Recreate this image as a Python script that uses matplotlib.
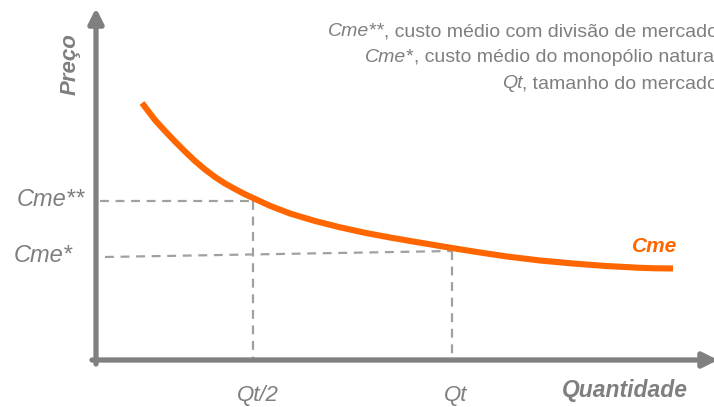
import matplotlib
matplotlib.use("Agg")
import matplotlib.pyplot as plt

# curve (Cme), in pixel-like units (x right, y down)
cme_x = [142, 155, 165, 175, 185, 195, 205, 215, 225, 235, 244, 253, 270, 290,
         315, 340, 365, 390, 415, 440, 452, 480, 507, 540, 573, 606, 640, 656, 673]
cme_y = [103, 120, 131, 141.5, 151.5, 161, 169.5, 177, 183.5, 189, 193.8, 198,
         205.8, 213.5, 221, 227.3, 232.8, 237.5, 241.8, 246, 248, 252.5, 256.5,
         260.5, 263.5, 266, 267.8, 268.3, 268.5]

q_half, q_t = 253, 452
cme2, cme1 = 201, 251
origin_x, origin_y = 96, 360

legend_lines = [
    ("Cme**", ", custo médio com divisão de mercado"),
    ("Cme*", ", custo médio do monopólio natural"),
    ("Qt", ", tamanho do mercado"),
]

gray = "#808080"
txt = "#7f7f7f"
dash = "#a0a0a0"
orange = "#ff6600"

plt.rcParams["font.family"] = ["Liberation Sans", "DejaVu Sans"]

fig = plt.figure(figsize=(7.14, 4.07), dpi=100)
ax = fig.add_axes([0, 0, 1, 1])
ax.set_xlim(0, 714)
ax.set_ylim(407, 0)
ax.axis("off")

# dashed guides
dstyle = dict(ls=(0, (4, 3)), color=dash, lw=1.6)
ax.plot([100, q_half], [cme2, cme2], **dstyle)
ax.plot([q_half, q_half], [cme2, origin_y], **dstyle)
ax.plot([105, q_t], [257, cme1], **dstyle)
ax.plot([q_t, q_t], [cme1, origin_y], **dstyle)

# axes with arrows
arr = dict(arrowstyle="-|>", lw=3.8, color=gray, mutation_scale=22,
           shrinkA=0, shrinkB=0)
ax.annotate("", xy=(origin_x, 8), xytext=(origin_x, 364),
            arrowprops=arr, annotation_clip=False)
ax.annotate("", xy=(718, origin_y), xytext=(92, origin_y),
            arrowprops=arr, annotation_clip=False)

# cost curve
ax.plot(cme_x, cme_y, color=orange, lw=4.4, solid_capstyle="butt",
        solid_joinstyle="round")
ax.text(677, 247, "Cme", color=orange, fontsize=15, fontweight="bold",
        fontstyle="italic", ha="right", va="center")

# axis labels
ax.text(70, 64, "Preço", color=txt, fontsize=16, fontweight="bold",
        fontstyle="italic", rotation=90, ha="center", va="center")
ax.text(688, 390, "Quantidade", color=txt, fontsize=16.5, fontweight="bold",
        fontstyle="italic", ha="right", va="center")

# tick-like labels
ax.text(85, 199, "Cme**", color=txt, fontsize=17, fontstyle="italic", ha="right", va="center")
ax.text(73, 256, "Cme*", color=txt, fontsize=17, fontstyle="italic", ha="right", va="center")
ax.text(258, 395, "Qt/2", color=txt, fontsize=16, fontstyle="italic", ha="center", va="center")
ax.text(456, 395, "Qt", color=txt, fontsize=16, fontstyle="italic", ha="center", va="center")

# top-right note (clipped at the right edge, as in the original)
for i, (a, b) in enumerate(legend_lines):
    y = 32 + i * 26
    t2 = ax.text(718, y, b, color=txt, fontsize=14, ha="right", va="center")
    fig.canvas.draw()
    bb = t2.get_window_extent()
    x0 = ax.transData.inverted().transform((bb.x0, bb.y0))[0]
    ax.text(x0, y, a, color=txt, fontsize=14, fontstyle="italic",
            ha="right", va="center")

fig.savefig("out.png", dpi=100)
